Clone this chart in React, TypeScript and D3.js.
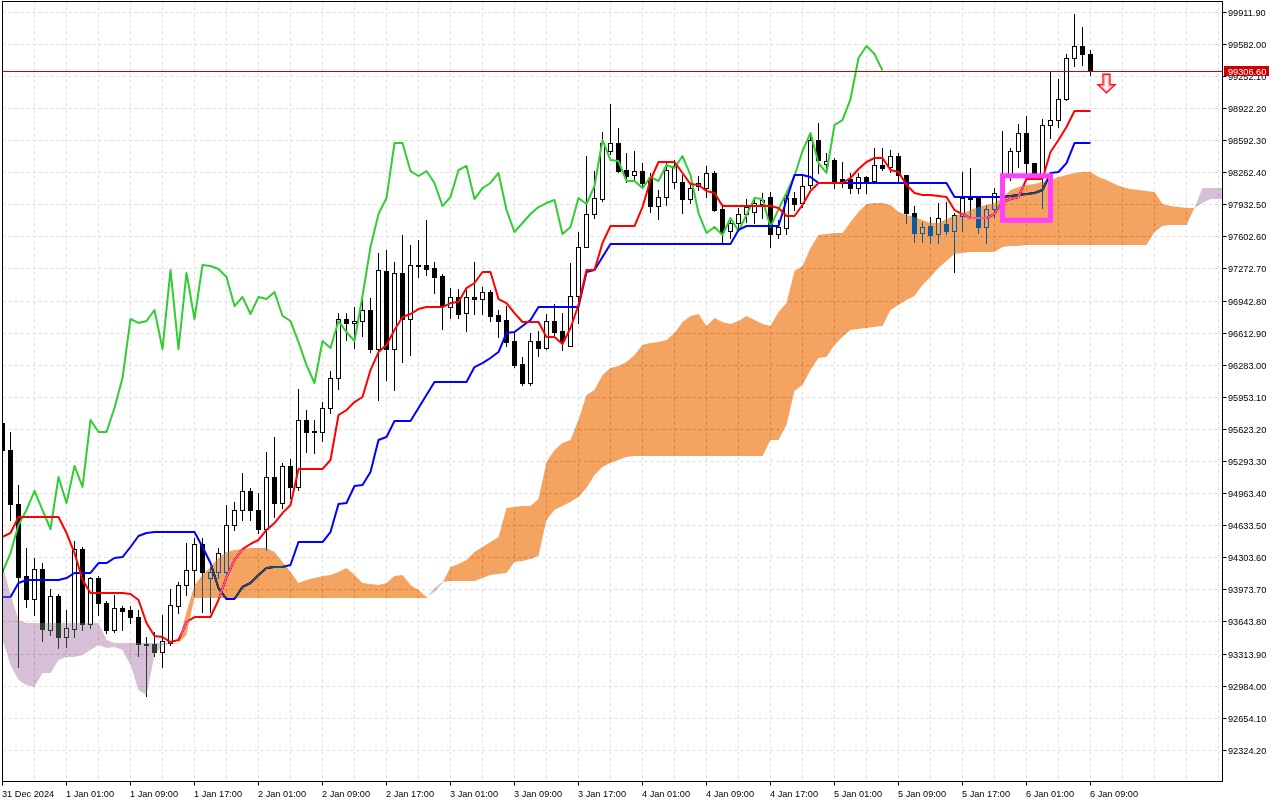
import * as d3 from 'd3';
import React, { useEffect, useRef } from 'react';

// BTCUSD H1, 31 Dec 2024 17:00 .. 6 Jan 2025 09:00, Ichimoku (9, 26, 52)
const opens = [
  95684, 95406, 94851, 94111, 93874, 94183, 93556, 93905, 93484, 93566,
  94388, 93617, 94090, 93833, 93556, 93782, 93761, 93689, 93412, 93412,
  93329, 93422, 93802, 94018, 94172, 94440, 94090, 94152, 94152, 94635,
  94789, 94985, 94789, 94594, 95128, 94861, 95242, 95026, 95714, 95601,
  95591, 95838, 96146, 96753, 96712, 96732, 96845, 96444, 97246, 96444,
  97226, 96753, 97308, 97308, 97277, 97195, 96876, 96979, 96814, 96979,
  96958, 97030, 96794, 96742, 96527, 96290, 96095, 96527, 96455, 96732,
  96629, 96475, 96989, 97493, 97832, 97986, 98480, 98562, 98284, 98233,
  98274, 98202, 97914, 98007, 98161, 98161, 97986, 98120, 98099, 98254,
  97883, 97657, 97740, 97832, 97853, 97935, 98007, 97627, 97688, 97996,
  97945, 98130, 98593, 98346, 98387, 98192, 98192, 98099, 98213, 98171,
  98336, 98315, 98428, 98233, 97842, 97637, 97709, 97627, 97729, 97657,
  97812, 98007, 97996, 97699, 97883, 98048, 98243, 98480, 98665, 98356,
  98213, 98747, 98798, 99014, 99436, 99559, 99477,
];
const highs = [
  95714, 95591, 95046, 94399, 94296, 94244, 93977, 93926, 93761, 94471,
  94409, 94100, 94111, 93854, 93915, 93802, 93802, 93761, 93484, 93535,
  93710, 93977, 94049, 94450, 94501, 94501, 94203, 94399, 94840, 94871,
  95170, 95015, 94964, 95385, 95540, 95272, 95313, 96033, 95817, 95714,
  95899, 96218, 96814, 96814, 96876, 96969, 96969, 97431, 97462, 97339,
  97616, 97513, 97565, 97770, 97339, 97215, 97071, 97061, 97051, 97339,
  97082, 97051, 96845, 96886, 96609, 96362, 96609, 96629, 96804, 96907,
  96814, 97329, 97647, 98428, 98274, 98675, 98963, 98716, 98459, 98480,
  98356, 98254, 98079, 98356, 98387, 98233, 98151, 98223, 98326, 98274,
  97935, 97801, 97894, 97986, 98007, 98048, 98058, 97770, 98058, 98058,
  98223, 98675, 98768, 98459, 98408, 98367, 98254, 98254, 98223, 98511,
  98511, 98490, 98459, 98233, 97914, 97750, 97801, 97945, 97955, 97842,
  98264, 98305, 98007, 97925, 98099, 98685, 98511, 98757, 98840, 98356,
  98809, 99292, 99220, 99477, 99888, 99754, 99518,
];
const lows = [
  95355, 94686, 93175, 93792, 93710, 93443, 93504, 93371, 93381, 93484,
  93556, 93576, 93710, 93525, 93535, 93556, 93628, 93288, 92877, 93288,
  93175, 93401, 93730, 93915, 93915, 93741, 93741, 94090, 94131, 94584,
  94686, 94686, 94553, 94378, 94717, 94810, 94913, 94995, 95385, 95375,
  95498, 95786, 96033, 96537, 96455, 96578, 96413, 95920, 96126, 96023,
  96311, 96383, 97184, 97205, 97020, 96650, 96763, 96763, 96629, 96804,
  96804, 96732, 96568, 96475, 96259, 96074, 96074, 96372, 96444, 96588,
  96434, 96475, 96712, 97493, 97791, 97966, 98449, 98264, 98161, 98182,
  98099, 97853, 97781, 97925, 98099, 97842, 97945, 98079, 98007, 97863,
  97534, 97585, 97668, 97750, 97740, 97791, 97493, 97585, 97627, 97873,
  97904, 98099, 98254, 98284, 98099, 98110, 98048, 98048, 98048, 98151,
  98284, 98264, 98151, 97740, 97544, 97544, 97534, 97534, 97627, 97236,
  97657, 97801, 97637, 97534, 97801, 98017, 98182, 98315, 98254, 98213,
  97894, 98613, 98726, 99004, 99354, 99364, 99261,
];
const closes = [
  95406, 94851, 94100, 93874, 94183, 93566, 93905, 93484, 93576, 94388,
  93617, 94090, 93833, 93556, 93782, 93751, 93689, 93412, 93401, 93329,
  93443, 93813, 94018, 94172, 94440, 94152, 94152, 94347, 94635, 94789,
  94985, 94789, 94594, 95128, 94861, 95242, 95026, 95714, 95591, 95591,
  95838, 96146, 96753, 96712, 96732, 96845, 96444, 97256, 96444, 97226,
  96753, 97308, 97298, 97267, 97184, 96886, 96979, 96804, 96979, 96958,
  97030, 96784, 96732, 96516, 96279, 96095, 96527, 96455, 96732, 96619,
  96527, 96989, 97493, 97832, 97996, 98562, 98562, 98274, 98223, 98274,
  98151, 97914, 98007, 98284, 98326, 97986, 98099, 98151, 98254, 97873,
  97647, 97740, 97832, 97904, 97945, 97976, 97627, 97699, 97996, 97935,
  98120, 98593, 98387, 98377, 98171, 98171, 98099, 98213, 98171, 98336,
  98305, 98428, 98233, 97842, 97637, 97699, 97616, 97791, 97657, 97822,
  97996, 97986, 97699, 97883, 98048, 98223, 98480, 98665, 98356, 98254,
  98747, 98798, 99014, 99436, 99559, 99477, 99306.6,
];

const tenkan = [
  94512, 94553, 94717, 94717, 94717, 94717, 94717, 94717, 94553, 94347,
  94070, 93936, 93936, 93936, 93936, 93936, 93926, 93864, 93628, 93494,
  93484, 93432, 93453, 93638, 93689, 93689, 93689, 93864, 94100, 94275,
  94388, 94440, 94481, 94584, 94655, 94758, 94840, 95211, 95211, 95211,
  95211, 95303, 95766, 95817, 95899, 95951, 96228, 96413, 96486, 96640,
  96773, 96804, 96855, 96876, 96876, 96876, 96917, 96927, 97071, 97123,
  97236, 97236, 96958, 96917, 96814, 96722, 96722, 96722, 96568, 96568,
  96496, 96660, 96897, 97256, 97256, 97534, 97709, 97709, 97709, 97709,
  97904, 98182, 98367, 98367, 98367, 98254, 98140, 98130, 98068, 98048,
  97914, 97914, 97914, 97914, 97914, 97914, 97914, 97894, 97812, 97812,
  97925, 98068, 98151, 98151, 98151, 98151, 98202, 98295, 98367, 98408,
  98408, 98284, 98264, 98130, 98048, 98027, 98027, 98017, 98007, 97873,
  97832, 97791, 97791, 97791, 97832, 97955, 97986, 98007, 98192, 98192,
  98192, 98469, 98593, 98726, 98891, 98891, 98891,
];
const kijun = [
  93895, 93895, 94039, 94070, 94070, 94070, 94070, 94070, 94090, 94142,
  94142, 94142, 94244, 94244, 94296, 94306, 94409, 94522, 94553, 94563,
  94563, 94563, 94563, 94563, 94563, 94409, 94244, 93987, 93874, 93874,
  93998, 94039, 94121, 94193, 94203, 94203, 94224, 94460, 94460, 94460,
  94460, 94563, 94851, 94861, 95036, 95046, 95180, 95509, 95540, 95704,
  95704, 95704, 95838, 95971, 96105, 96105, 96105, 96105, 96105, 96259,
  96300, 96352, 96413, 96609, 96619, 96681, 96742, 96876, 96876, 96876,
  96876, 96876, 96876, 97236, 97256, 97390, 97524, 97524, 97524, 97524,
  97524, 97524, 97524, 97524, 97524, 97524, 97524, 97524, 97524, 97524,
  97524, 97524, 97668, 97709, 97709, 97709, 97709, 97709, 97976, 98233,
  98233, 98213, 98151, 98151, 98151, 98151, 98151, 98151, 98151, 98151,
  98151, 98151, 98151, 98151, 98151, 98151, 98151, 98151, 98151, 98007,
  98007, 98007, 98007, 98007, 98007, 98007, 98017, 98027, 98038, 98048,
  98079, 98254, 98264, 98356, 98562, 98562, 98562,
];
// senkou spans as plotted (already shifted 26 bars forward), bars 0..153
const senkouA = [
  93453, 93196, 93042, 92990, 92970, 93114, 93114, 93247, 93278, 93278,
  93299, 93350, 93401, 93371, 93381, 93350, 93196, 92939, 92887, 93299,
  93401, 93412, 93422, 93741, 94018, 94121, 94203, 94296, 94357, 94378,
  94388, 94399, 94399, 94399, 94357, 94255, 94152, 94039, 94070, 94090,
  94111, 94121, 94152, 94193, 94121, 94039, 94028, 94018, 94039, 94111,
  94121, 94018, 93967, 93895, 93946, 94039, 94203, 94234, 94275, 94357,
  94409, 94460, 94512, 94810, 94820, 94830, 94830, 94902, 95283, 95406,
  95478, 95509, 95714, 95971, 96023, 96177, 96249, 96269, 96311, 96383,
  96486, 96506, 96516, 96537, 96609, 96722, 96784, 96804, 96681, 96763,
  96722, 96701, 96732, 96784, 96742, 96701, 96681, 96825, 96917, 97246,
  97298, 97483, 97616, 97627, 97637, 97637, 97750, 97853, 97935, 97945,
  97945, 97925, 97853, 97822, 97801, 97770, 97740, 97740, 97781, 97812,
  97842, 97873, 97904, 97925, 97945, 97996, 98079, 98110, 98130, 98140,
  98161, 98182, 98213, 98233, 98254, 98264, 98264, 98213, 98182, 98140,
  98110, 98089, 98079, 98068, 98058, 97935, 97914, 97904, 97894, 97894,
  97945, 97986, 97986, 97986,
];
const senkouB = [
  94224, 93915, 93658, 93628, 93628, 93628, 93628, 93628, 93628, 93628,
  93628, 93628, 93628, 93453, 93422, 93422, 93422, 93422, 93422, 93422,
  93422, 93422, 93422, 93504, 93885, 93885, 93885, 93885, 93885, 93885,
  93885, 93885, 93885, 93885, 93885, 93885, 93885, 93885, 93885, 93885,
  93885, 93885, 93885, 93885, 93885, 93885, 93885, 93885, 93885, 93885,
  93885, 93885, 93885, 93885, 93987, 94049, 94059, 94059, 94059, 94059,
  94090, 94121, 94131, 94142, 94255, 94265, 94286, 94316, 94686, 94789,
  94830, 94871, 94923, 95015, 95149, 95231, 95272, 95303, 95334, 95344,
  95344, 95344, 95344, 95344, 95344, 95344, 95344, 95344, 95344, 95344,
  95344, 95344, 95344, 95344, 95344, 95344, 95509, 95509, 95663, 96013,
  96074, 96228, 96352, 96362, 96486, 96568, 96640, 96650, 96660, 96670,
  96681, 96845, 96897, 96948, 96989, 97102, 97184, 97277, 97349, 97421,
  97431, 97441, 97441, 97441, 97441, 97493, 97503, 97503, 97513, 97513,
  97513, 97513, 97513, 97513, 97513, 97513, 97513, 97513, 97513, 97513,
  97513, 97513, 97513, 97513, 97647, 97709, 97719, 97719, 97719, 97894,
  98099, 98099, 98099, 98099,
];
const chikouShift = 26;

const timeLabels = [
  '31 Dec 2024', '1 Jan 01:00', '1 Jan 09:00', '1 Jan 17:00', '2 Jan 01:00', '2 Jan 09:00',
  '2 Jan 17:00', '3 Jan 01:00', '3 Jan 09:00', '3 Jan 17:00', '4 Jan 01:00', '4 Jan 09:00',
  '4 Jan 17:00', '5 Jan 01:00', '5 Jan 09:00', '5 Jan 17:00', '6 Jan 01:00', '6 Jan 09:00',
];
const priceTicks = [
  99911.9, 99582.0, 99252.1, 98922.2, 98592.3, 98262.4, 97932.5, 97602.6, 97272.7, 96942.8,
  96612.9, 96283.0, 95953.1, 95623.2, 95293.3, 94963.4, 94633.5, 94303.6, 93973.7, 93643.8,
  93313.9, 92984.0, 92654.1, 92324.2,
];
const bid = 99306.6;
const breakout = { from: 125, to: 131, top: 98225, bottom: 97768 };
const sellSignal = { bar: 138, price: 99079 };

const App: React.FC = () => {
  const svgRef = useRef<SVGSVGElement>(null);

  useEffect(() => {
    if (!svgRef.current) return;
    const svg = d3.select(svgRef.current);
    svg.selectAll('*').remove();

    const left = 2.5, right = 1222.5, top = 1.5, bottom = 781.5;
    const font = '"Liberation Sans", Arial, sans-serif';

    const x = d3.scaleLinear().domain([0, 136]).range([2.5, 1090.5]);
    const y = d3.scaleLinear().domain([92324.2, 99911.9]).range([749.8, 11.7]);
    const py = (v: number) => Math.round(y(v)) + 0.5;

    svg.append('rect').attr('width', 1280).attr('height', 800).attr('fill', '#fff');

    // grid
    const grid = svg.append('g').attr('stroke', '#dedede').attr('stroke-dasharray', '3,3');
    priceTicks.forEach(v => {
      grid.append('line').attr('x1', left).attr('x2', right).attr('y1', py(v)).attr('y2', py(v));
    });
    d3.range(0, 153, 4).forEach(i => {
      grid.append('line').attr('x1', x(i)).attr('x2', x(i)).attr('y1', top).attr('y2', bottom);
    });

    // candles
    const bars = opens.map((o, i) => ({ i, o, h: highs[i], l: lows[i], c: closes[i] }));
    const cg = svg.append('g');
    cg.selectAll('line')
      .data(bars)
      .join('line')
      .attr('x1', d => x(d.i))
      .attr('x2', d => x(d.i))
      .attr('y1', d => Math.round(y(d.h)))
      .attr('y2', d => Math.round(y(d.l)) + 1)
      .attr('stroke', '#000');
    cg.selectAll('rect')
      .data(bars)
      .join('rect')
      .attr('x', d => x(d.i) - 2)
      .attr('width', 4)
      .attr('y', d => py(Math.max(d.o, d.c)))
      .attr('height', d => py(Math.min(d.o, d.c)) - py(Math.max(d.o, d.c)))
      .attr('fill', d => (d.c >= d.o ? '#fff' : '#000'))
      .attr('stroke', '#000');

    // tenkan, kijun, chikou
    const line = d3.line<number>().x((_, i) => x(i)).y(d => y(d));
    const drawLine = (data: number[], color: string) =>
      svg.append('path').datum(data).attr('d', line).attr('fill', 'none')
        .attr('stroke', color).attr('stroke-width', 2).attr('stroke-linejoin', 'round');
    drawLine(closes.slice(chikouShift), '#32cd32');
    drawLine(kijun, '#0000ff');
    drawLine(tenkan, '#ff0000');

    // kumo: filled between spans, blended like the terminal's xor fill
    const defs = svg.append('defs');
    defs.append('clipPath').attr('id', 'aboveB').append('path')
      .attr('d', d3.area<number>().x((_, i) => x(i)).y0(top - 5).y1(d => y(d))(senkouB));
    defs.append('clipPath').attr('id', 'belowB').append('path')
      .attr('d', d3.area<number>().x((_, i) => x(i)).y0(bottom + 5).y1(d => y(d))(senkouB));
    const kumo = d3.area<number>().x((_, i) => x(i)).y0((_, i) => y(senkouB[i])).y1(d => y(d));
    svg.append('path').datum(senkouA).attr('d', kumo)
      .attr('fill', '#0b5b9f').attr('clip-path', 'url(#aboveB)')
      .style('mix-blend-mode', 'difference');
    svg.append('path').datum(senkouA).attr('d', kumo)
      .attr('fill', '#274027').attr('clip-path', 'url(#belowB)')
      .style('mix-blend-mode', 'difference');

    // mask everything outside the plot
    svg.append('rect').attr('x', 0).attr('y', 0).attr('width', 2).attr('height', 800).attr('fill', '#fff');
    svg.append('rect').attr('x', 0).attr('y', 0).attr('width', 1280).attr('height', 1).attr('fill', '#fff');
    svg.append('rect').attr('x', 1223).attr('y', 0).attr('width', 57).attr('height', 800).attr('fill', '#fff');
    svg.append('rect').attr('x', 0).attr('y', 782).attr('width', 1280).attr('height', 18).attr('fill', '#fff');

    // bid line
    svg.append('line').attr('x1', left).attr('x2', right).attr('y1', py(bid)).attr('y2', py(bid))
      .attr('stroke', '#d40000');

    // breakout box
    svg.append('rect')
      .attr('x', x(breakout.from)).attr('width', x(breakout.to) - x(breakout.from))
      .attr('y', y(breakout.top)).attr('height', y(breakout.bottom) - y(breakout.top))
      .attr('fill', 'none').attr('stroke', '#ff40ff').attr('stroke-width', 5);

    // sell arrow (tip at signal price)
    const ax = x(sellSignal.bar), ay = y(sellSignal.price);
    const arrowPts: [number, number][] = [
      [-3.5, -18.5], [3.5, -18.5], [3.5, -8], [8.5, -8], [0, 0], [-8.5, -8], [-3.5, -8],
    ];
    const arrow = d3.line()(arrowPts.map(([dx, dy]) => [ax + dx, ay + dy])) + 'Z';
    svg.append('path').attr('d', arrow).attr('fill', '#fff').attr('stroke', '#ff1010').attr('stroke-width', 1.4);
    const inner: [number, number][] = [
      [-2, -17], [2, -17], [2, -6.5], [5.5, -6.5], [0, -2], [-5.5, -6.5], [-2, -6.5],
    ];
    svg.append('path').attr('d', d3.line()(inner.map(([dx, dy]) => [ax + dx, ay + dy])) + 'Z')
      .attr('fill', 'none').attr('stroke', '#ffa0b0').attr('stroke-width', 1);

    // frame
    svg.append('rect').attr('x', left).attr('y', top).attr('width', right - left).attr('height', bottom - top)
      .attr('fill', 'none').attr('stroke', '#000');

    // price axis
    const ya = svg.append('g').attr('font-family', font).attr('font-size', 9.2).attr('fill', '#000');
    priceTicks.forEach(v => {
      ya.append('line').attr('x1', right).attr('x2', right + 4).attr('y1', py(v)).attr('y2', py(v)).attr('stroke', '#000');
      ya.append('text').attr('x', 1228).attr('y', py(v) + 3.3).text(d3.format('.2f')(v));
    });
    svg.append('rect').attr('x', 1224).attr('y', py(bid) - 5.5).attr('width', 45).attr('height', 10).attr('fill', '#cc0000');
    svg.append('text').attr('x', 1228).attr('y', py(bid) + 3.3).attr('font-family', font).attr('font-size', 9.2)
      .attr('fill', '#fff').text(d3.format('.2f')(bid));

    // time axis
    const xa = svg.append('g').attr('font-family', font).attr('font-size', 9.2).attr('fill', '#000');
    timeLabels.forEach((t, k) => {
      const tx = x(k * 8);
      xa.append('line').attr('x1', tx).attr('x2', tx).attr('y1', bottom).attr('y2', bottom + 4).attr('stroke', '#000');
      xa.append('text').attr('x', tx - 0.5).attr('y', 797).text(t);
    });
  }, []);

  return (
    <svg ref={svgRef} width={1280} height={800} style={{ position: 'absolute', left: 0, top: 0, display: 'block' }} />
  );
};

export default App;
